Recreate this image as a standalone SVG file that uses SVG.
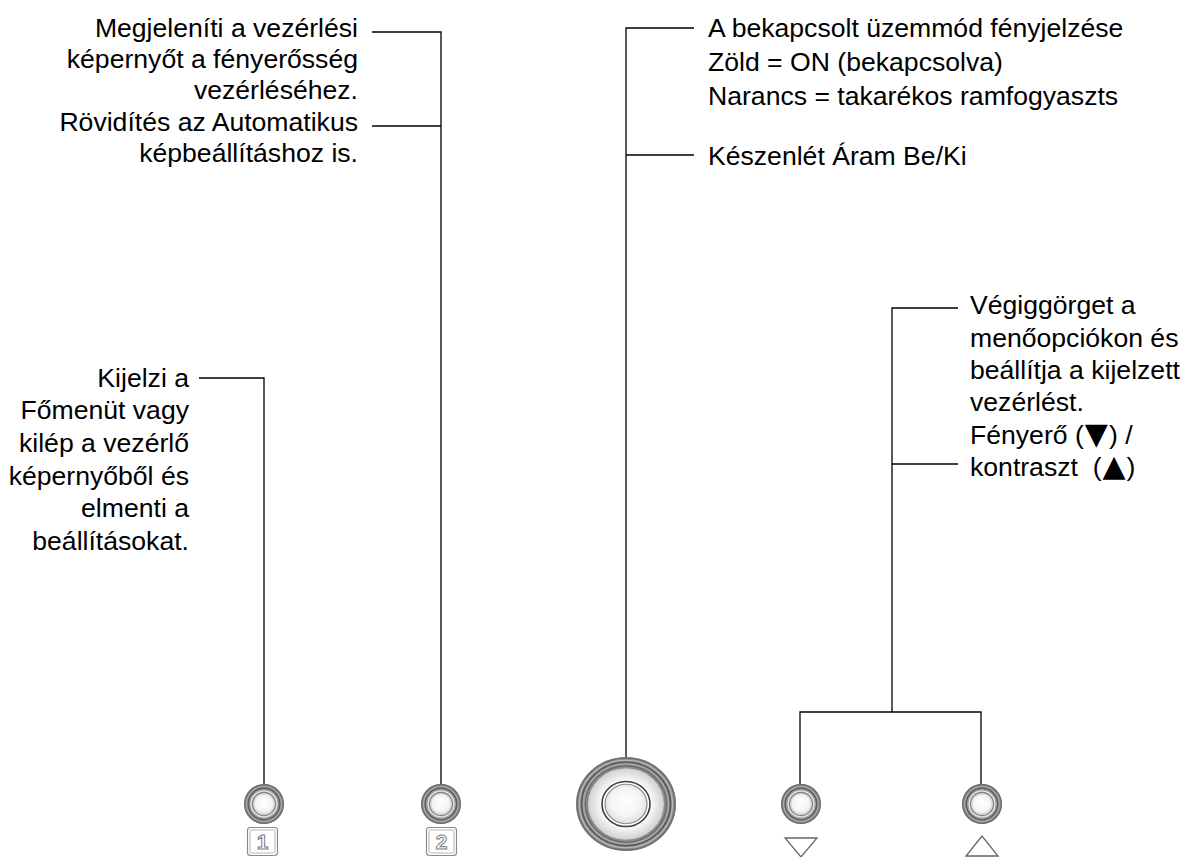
<svg xmlns="http://www.w3.org/2000/svg" width="1187" height="857" viewBox="0 0 1187 857">
<style>
.t{font-family:"Liberation Sans",Arial,sans-serif;font-size:26.6px;fill:#000;white-space:pre}
.r{text-anchor:end}
.g{font-family:"DejaVu Sans",sans-serif;font-size:30px}
.c{fill:none;stroke:#000;stroke-width:1.3}
.ring{fill:none}
.box{fill:#fff;stroke:#8a8a8a;stroke-width:1.2}
.boxin{fill:none;stroke:#b5b5b5;stroke-width:1}
.dig{font-family:"Liberation Sans",Arial,sans-serif;font-size:21px;font-weight:bold;fill:#fff;stroke:#7a7a7a;stroke-width:1;text-anchor:middle}
.tri{fill:#fff;stroke:#666;stroke-width:1.3}
</style>
<defs>
<radialGradient id="cen" cx="0.5" cy="0.45" r="0.6">
<stop offset="0" stop-color="#ffffff"/>
<stop offset="0.6" stop-color="#f4f4f4"/>
<stop offset="1" stop-color="#d8d8d8"/>
</radialGradient>
<radialGradient id="mid" cx="0.5" cy="0.5" r="0.5">
<stop offset="0.6" stop-color="#ffffff"/>
<stop offset="1" stop-color="#cfcfcf"/>
</radialGradient>
<g id="btnS">
<circle r="20" fill="#8c8c8c"/>
<circle r="19.3" class="ring" stroke="#6a6a6a" stroke-width="1.2"/>
<circle r="17.3" class="ring" stroke="#b0b0b0" stroke-width="1"/>
<circle r="15.8" class="ring" stroke="#5a5a5a" stroke-width="1.2"/>
<circle r="14.2" fill="#e2e2e2" stroke="#9a9a9a" stroke-width="1"/>
<circle r="11.5" fill="url(#cen)" stroke="#808080" stroke-width="1.3"/>
<circle r="10" class="ring" stroke="#d0d0d0" stroke-width="0.8"/>
</g>
</defs>

<g id="connectors">
<polyline class="c" points="372,32 441,32 441,785"/>
<line class="c" x1="372" y1="126" x2="441" y2="126"/>
<polyline class="c" points="694,28 626,28 626,759"/>
<line class="c" x1="626" y1="155" x2="694" y2="155"/>
<polyline class="c" points="199,378 264,378 264,785"/>
<polyline class="c" points="958,308 892,308 892,712"/>
<line class="c" x1="892" y1="464" x2="958" y2="464"/>
<polyline class="c" points="800,785 800,712 981,712 981,785"/>
</g>

<g id="label-btn2">
<text class="t r" x="358" y="37">Megjeleníti a vezérlési</text>
<text class="t r" x="358" y="68">képernyőt a fényerősség</text>
<text class="t r" x="358" y="99">vezérléséhez.</text>
<text class="t r" x="358" y="131">Rövidítés az Automatikus</text>
<text class="t r" x="358" y="162">képbeállításhoz is.</text>
</g>

<g id="label-power">
<text class="t" x="708" y="37">A bekapcsolt üzemmód fényjelzése</text>
<text class="t" x="708" y="71">Zöld = ON (bekapcsolva)</text>
<text class="t" x="708" y="105">Narancs = takarékos ramfogyaszts</text>
<text class="t" x="708" y="165">Készenlét Áram Be/Ki</text>
</g>

<g id="label-btn1">
<text class="t r" x="189" y="387">Kijelzi a</text>
<text class="t r" x="189" y="419">Főmenüt vagy</text>
<text class="t r" x="189" y="452">kilép a vezérlő</text>
<text class="t r" x="189" y="485">képernyőből és</text>
<text class="t r" x="189" y="517">elmenti a</text>
<text class="t r" x="189" y="550">beállításokat.</text>
</g>

<g id="label-arrows">
<text class="t" x="970" y="314">Végiggörget a</text>
<text class="t" x="970" y="347">menőopciókon és</text>
<text class="t" x="970" y="379">beállítja a kijelzett</text>
<text class="t" x="970" y="411">vezérlést.</text>
<text class="t" x="970" y="444">Fényerő (<tspan class="g" dx="1">▼</tspan><tspan dx="1">) /</tspan></text>
<text class="t" x="970" y="476">kontraszt  (<tspan class="g" dx="1">▲</tspan><tspan dx="1">)</tspan></text>
</g>

<g id="button-1">
<use href="#btnS" x="264" y="804"/>
<rect class="box" x="247.5" y="827.5" width="30" height="28" rx="3"/>
<rect class="boxin" x="250" y="830" width="25" height="23" rx="1.5"/>
<text class="dig" x="262.5" y="849">1</text>
</g>

<g id="button-2">
<use href="#btnS" x="441" y="804"/>
<rect class="box" x="426.5" y="827.5" width="30" height="28" rx="3"/>
<rect class="boxin" x="429" y="830" width="25" height="23" rx="1.5"/>
<text class="dig" x="441.5" y="849">2</text>
</g>

<g id="button-power" transform="translate(626 804) scale(1 0.94)">
<circle r="50" fill="#8e8e8e"/>
<circle r="49" class="ring" stroke="#6e6e6e" stroke-width="1.5"/>
<circle r="46.5" class="ring" stroke="#b8b8b8" stroke-width="1.2"/>
<circle r="44.5" class="ring" stroke="#555" stroke-width="1.4"/>
<circle r="42.5" class="ring" stroke="#a8a8a8" stroke-width="1.2"/>
<circle r="40.5" class="ring" stroke="#666" stroke-width="1.2"/>
<circle r="38.5" fill="url(#mid)" stroke="#8a8a8a" stroke-width="1.2"/>
<circle r="24" fill="#fff" stroke="#3c3c3c" stroke-width="1.6"/>
<circle r="21" fill="url(#cen)" stroke="#8a8a8a" stroke-width="1.2"/>
</g>

<g id="button-down">
<use href="#btnS" x="801" y="804"/>
<polygon class="tri" points="785,838 817,838 801,857"/>
</g>

<g id="button-up">
<use href="#btnS" x="982" y="804"/>
<polygon class="tri" points="982,836 966,856 998,856"/>
</g>
</svg>
